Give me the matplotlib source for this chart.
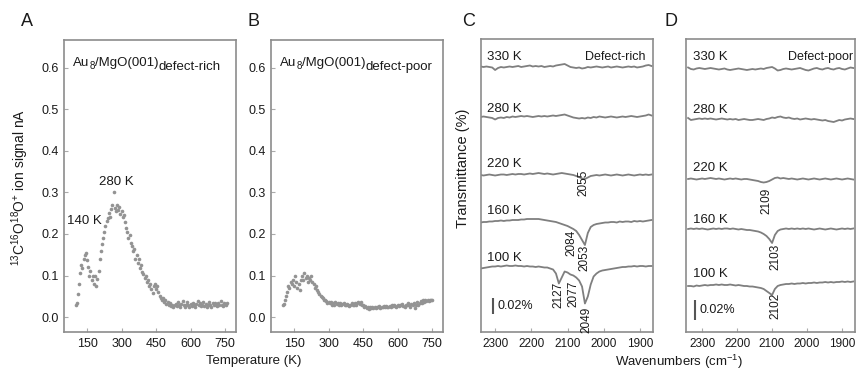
import matplotlib
matplotlib.use("Agg")
import matplotlib.pyplot as plt
import numpy as np

plt.rcParams['font.family'] = ['Liberation Sans', 'DejaVu Sans']
plt.rcParams['mathtext.fontset'] = 'custom'
plt.rcParams['mathtext.rm'] = 'Liberation Sans'
plt.rcParams['mathtext.it'] = 'Liberation Sans:italic'
plt.rcParams['mathtext.bf'] = 'Liberation Sans:bold'

# ---------------- TPD data (panels A, B) ----------------
temp_a = list(range(100, 761, 5))
signal_a = [0.030, 0.035, 0.055, 0.080, 0.105, 0.125, 0.118, 0.140, 0.150, 0.155,
            0.138, 0.120, 0.100, 0.112, 0.090, 0.098, 0.080, 0.100, 0.075, 0.092,
            0.110, 0.140, 0.160, 0.175, 0.190, 0.205, 0.220, 0.232, 0.238, 0.250,
            0.242, 0.260, 0.270, 0.300, 0.262, 0.255, 0.270, 0.258, 0.265, 0.248,
            0.255, 0.240, 0.245, 0.228, 0.215, 0.205, 0.190, 0.198, 0.178, 0.172,
            0.160, 0.165, 0.140, 0.150, 0.130, 0.140, 0.118, 0.125, 0.108, 0.104,
            0.095, 0.100, 0.085, 0.090, 0.075, 0.080, 0.068, 0.058, 0.075, 0.080,
            0.068, 0.075, 0.060, 0.050, 0.045, 0.040, 0.045, 0.036, 0.040, 0.032,
            0.036, 0.030, 0.033, 0.027, 0.030, 0.024, 0.028, 0.032, 0.026, 0.036,
            0.030, 0.025, 0.032, 0.038, 0.028, 0.024, 0.030, 0.036, 0.029, 0.025,
            0.032, 0.027, 0.035, 0.030, 0.025, 0.031, 0.038, 0.028, 0.033, 0.026,
            0.030, 0.036, 0.027, 0.032, 0.025, 0.030, 0.037, 0.029, 0.025, 0.033,
            0.028, 0.034, 0.030, 0.026, 0.035, 0.029, 0.038, 0.030, 0.027, 0.035,
            0.031, 0.029, 0.033]

temp_b = list(range(100, 751, 5))
signal_b = [0.030, 0.032, 0.040, 0.050, 0.060, 0.075, 0.070, 0.085, 0.080, 0.090,
            0.075, 0.100, 0.085, 0.070, 0.080, 0.065, 0.090, 0.100, 0.090, 0.105,
            0.095, 0.100, 0.085, 0.095, 0.090, 0.100, 0.085, 0.080, 0.070, 0.075,
            0.065, 0.060, 0.055, 0.050, 0.048, 0.045, 0.040, 0.042, 0.038, 0.035,
            0.037, 0.033, 0.036, 0.030, 0.034, 0.030, 0.036, 0.032, 0.035, 0.030,
            0.034, 0.028, 0.032, 0.035, 0.030, 0.028, 0.032, 0.030, 0.027, 0.030,
            0.034, 0.030, 0.028, 0.033, 0.030, 0.035, 0.037, 0.032, 0.036, 0.030,
            0.028, 0.025, 0.027, 0.022, 0.025, 0.020, 0.024, 0.022, 0.025, 0.021,
            0.024, 0.022, 0.025, 0.023, 0.026, 0.022, 0.025, 0.024, 0.027, 0.023,
            0.026, 0.025, 0.024, 0.027, 0.025, 0.028, 0.026, 0.030, 0.027, 0.025,
            0.029, 0.026, 0.030, 0.028, 0.032, 0.027, 0.025, 0.030, 0.028, 0.033,
            0.030, 0.025, 0.031, 0.028, 0.034, 0.022, 0.030, 0.036, 0.030, 0.035,
            0.038, 0.033, 0.040, 0.036, 0.040, 0.038, 0.041, 0.039, 0.042, 0.040,
            0.041]

tpd_ticks = [150, 300, 450, 600, 750]
tpd_yticks = [0.0, 0.1, 0.2, 0.3, 0.4, 0.5, 0.6]

# ---------------- IR data (panels C, D) ----------------
wavenumbers = [2340, 2332, 2324, 2316, 2308, 2300, 2292, 2284, 2276, 2268,
               2260, 2252, 2244, 2236, 2228, 2220, 2212, 2204, 2196, 2188,
               2180, 2172, 2164, 2156, 2148, 2140, 2132, 2124, 2116, 2108,
               2100, 2092, 2084, 2076, 2068, 2060, 2052, 2044, 2036, 2028,
               2020, 2012, 2004, 1996, 1988, 1980, 1972, 1964, 1956, 1948,
               1940, 1932, 1924, 1916, 1908, 1900, 1892, 1884, 1876, 1868]
ir_ticks = [2300, 2200, 2100, 2000, 1900]
temps_ir = ['330 K', '280 K', '220 K', '160 K', '100 K']

# Defect-rich spectra (relative transmittance, a.u.; scale bar 0.02% = 16 a.u.)
rich_330 = [0.5, 0, 0.5, 0, -0.5, -3, -1, 0, -0.5, 0, 0.5, 0, 0.5, 1, 0, 0.5, 1, 1.5, 0.5, 1,
            0.5, 1, 0, 0.5, 1, 0.5, 1.5, 2, 2.5, 3, 1.5, 0, -0.5, -1, -0.5, -1.5, -1, 0, -0.5, 0,
            0.5, 0, -0.5, 0, 0.5, -0.5, 0, 0.5, 0, -0.5, 0, 0.5, 0, 0.5, -0.5, 0, 0.5, 1.5, 2, 1]
rich_280 = [0, 0.5, 0, -0.5, -1, -2.5, -1, -0.5, -1, 0, -0.5, 0.5, 0, 0.5, 1, 0.5, 1, 0.5, 0, 0.5,
            1, 0.5, 1, 0.5, 1, 1.5, 1, 1.5, 2, 2.5, 1.5, 0.5, -0.5, -1, -1.5, -1, -1.5, -0.5, -1, 0,
            -0.5, 0.5, 0, -0.5, 0, 0.5, 0, -0.5, 0, 0.5, 0, 0.5, 1, 0.5, 0, 0.5, 1, 1.5, 2.5, 1.5]
rich_220 = [0, -0.5, 0, 0.5, 0, -0.5, 0, 0.5, 0.5, 0, 0.5, 1, 0.5, 1, 1, 0.5, 1, 1.5, 1, 1.5,
            2, 1.5, 1, 1.5, 1, 0.5, 1, 1.5, 2, 1.5, 1, 0.5, 0, -1, -2, -3.5, -4, -2.5, -1, -0.5,
            0, -0.5, 0, 0.5, 0, -0.5, 0, 0.5, 0, -0.5, 0, 0.5, 0, -0.5, 0, 0.5, 0, 0.5, 0, 0.5]
rich_160 = [-1.5, -1, -1, -0.5, -0.5, 0, 0, 0.5, 0, 0.5, 0.5, 1, 1, 1, 1.5, 1.5, 2, 2, 2, 2,
            2, 1.5, 1, 0.5, 0, -0.5, -1, -2, -3, -4, -5, -6.5, -8, -10, -14, -19, -24, -12, -6, -4,
            -3, -2.5, -2, -1.5, -1.5, -1, -1, -1.5, -0.5, -1, -0.5, -0.5, -1, 0, -0.5, 0, -0.5, 0, 0.5, 1]
rich_100 = [-2, -1.5, -1, -0.5, 0, 0, 0.5, 0, 0.5, 1, 0.5, 0.5, 1, 0.5, 0.5, 0, 0.5, 0, 0, -0.5,
            0, -0.5, -1, -1, -2, -3, -7, -17, -11, -5, -6, -8, -9, -11, -14, -20, -37, -30, -18, -10,
            -7, -5, -4, -3.5, -3, -2.5, -2, -1.5, -1, -0.5, -0.5, 0, 0, 0.5, 0, 0.5, 0.5, 0, 0.5, 0.5]

# Defect-poor spectra (relative transmittance, a.u.; scale bar 0.02% = 20 a.u.)
poor_330 = [1.5, 0, -0.5, 0.5, 1, 0.5, 0, 0.5, 1, 0.5, 0, -0.5, 0, 0.5, -0.5, -1, -0.5, 0, 0.5, 0,
            -0.5, -1, -0.5, 0, -0.5, 0, 0.5, 0, 1, 1.5, 2, 0.5, -1.5, -1, 0, 0.5, 0, -0.5, 0, 0.5,
            1, 0, -1, -1.5, -0.5, 0.5, 1, 0, -0.5, 0.5, 1, 0, -0.5, 0.5, 1, 0, -0.5, 0.5, 1.5, 1]
poor_280 = [1, -1, -0.5, 0, 0.5, 0, 0.5, 0, 0.5, 0, -0.5, 0, 0.5, 0, -0.5, 0, -0.5, 0, -1, -0.5,
            0, -0.5, -1, -1, -0.5, 0, -0.5, -1, 0, 0.5, 1.5, 1, 2, 2.5, 1.5, 1, 1.5, 0.5, 0, 0.5,
            -0.5, 0, 0.5, 0, -0.5, 0, -0.5, -1, -1.5, -1, -2, -2.5, -3, -2, -1, -1.5, -0.5, 0, 0.5, 0]
poor_220 = [0, 0.5, 0, -0.5, 0, 0.5, 0, 0.5, 1, 0.5, 0, 0.5, 0, -0.5, 0, 0.5, 0, 0.5, 0, -0.5,
            0, 0, -0.5, -1, -1.5, -2, -3, -3.5, -3, -2, -0.5, 1, 1.5, 0.5, 1, 0.5, 0, 0.5, 0, -0.5,
            0, 0.5, 0, -0.5, 0, 0.5, 0, -0.5, 0, 0.5, 0, -0.5, 0, 0.5, 0, -0.5, 0, 0.5, 0, -0.5]
poor_160 = [0, 0.5, 0, 0.5, 0, 0.5, 0, -0.5, 0, 0.5, 0, 0.5, 0, 0.5, 0.5, 0, 0.5, 0, -0.5, 0,
            -0.5, -1, -1, -1.5, -2, -2.5, -3.5, -5, -7, -10, -14, -6, -2, -0.5, 0, 0.5, 0, 0.5, 0, 0.5,
            0, 0.5, 0, 0.5, 0, -0.5, 0, 0.5, 0, -0.5, 0, 0.5, 0, -0.5, 0, 0.5, 0, 0.5, 0, 0.5]
poor_100 = [-1, -1, -1.5, -0.5, -1, -0.5, 0, -0.5, 0, 0, 0.5, 0, 0.5, 0, 0, 0.5, 0, -0.5, 0, -0.5,
            -1, -1, -1.5, -1.5, -2, -2.5, -3, -4, -6, -8, -10, -4, -1, 0, 0.5, 1, 1, 1.5, 1, 1.5,
            1.5, 2, 1.5, 2, 2, 2.5, 2, 2.5, 2.5, 3, 2.5, 3, 2.5, 3, 3, 3.5, 3, 3.5, 3, 3.5]

rich_spectra = [rich_330, rich_280, rich_220, rich_160, rich_100]
poor_spectra = [poor_330, poor_280, poor_220, poor_160, poor_100]
rich_peaks = [('2055', 2057, 183), ('2084', 2088, 243), ('2053', 2053, 258),
              ('2127', 2125, 295), ('2077', 2083, 294), ('2049', 2048, 320)]
poor_peaks = [('2109', 2117, 201), ('2103', 2091, 257), ('2102', 2091, 306)]

# ---------------- layout ----------------
W, H = 856, 377
fig = plt.figure(figsize=(W / 100, H / 100), dpi=100)
renderer = fig.canvas.get_renderer()


def rect(l, r, t, b):
    return [l / W, 1 - b / H, (r - l) / W, (b - t) / H]


def fx(x):
    return x / W


def fy(y):
    return 1 - y / H


GREY = '#7f7f7f'
SPINE = '#8c8c8c'
TXT = '#1a1a1a'


def chain_text(x, y, parts):
    """parts: list of (string, fontsize, baseline_shift_px)"""
    cur = x
    for s, fs, dy in parts:
        t = fig.text(fx(cur), fy(y + dy), s, ha='left', va='baseline', fontsize=fs, color=TXT)
        bb = t.get_window_extent(renderer=renderer)
        cur = bb.x1


axA = fig.add_axes(rect(64, 236, 40, 332))
axB = fig.add_axes(rect(271, 443, 40, 332))
axC = fig.add_axes(rect(481, 653, 39, 332))
axD = fig.add_axes(rect(686, 855, 39, 332))

for ax in (axA, axB, axC, axD):
    for s in ax.spines.values():
        s.set_color(SPINE)
        s.set_linewidth(1.2)

for ax, T, S, lab, x0 in ((axA, temp_a, signal_a, 'defect-rich', 73),
                          (axB, temp_b, signal_b, 'defect-poor', 280)):
    ax.plot(T, S, 'o', ms=2.6, mew=0, color='#939393')
    ax.set_xlim(50, 797)
    ax.set_ylim(-0.036, 0.667)
    ax.set_xticks(tpd_ticks)
    ax.set_yticks(tpd_yticks)
    ax.set_yticklabels(['%.1f' % v for v in tpd_yticks])
    ax.tick_params(direction='in', length=3, width=0.8, color='#aaaaaa',
                   labelsize=9, labelcolor=TXT, pad=4)
    chain_text(x0, 66, [('Au', 9.5, 0), ('8', 7, 3), ('/MgO(001)', 9.5, 0), (lab, 9.5, 4)])

axA.text(138, 0.231, '140 K', ha='center', va='center', fontsize=9.5, color=TXT)
axA.text(278, 0.325, '280 K', ha='center', va='center', fontsize=9.5, color=TXT)

fig.text(fx(20), fy(187), r'$^{13}$C$^{16}$O$^{18}$O$^{+}$ ion signal nA', rotation=90,
         ha='center', va='center', fontsize=10, color=TXT)
fig.text(fx(254), fy(361), 'Temperature (K)', ha='center', va='center', fontsize=9.5, color=TXT)

# IR panels
ir_cfg = [
    (axC, rich_spectra, [265, 215, 157, 111, 65.5], (2339, 1864), 16, 'Defect-rich', rich_peaks,
     [57, 109, 164, 211, 258], 487, 645, 2306, 298, 497),
    (axD, poor_spectra, [263, 213, 153, 103, 47], (2346, 1863), 20, 'Defect-poor', poor_peaks,
     [57, 110, 168, 220, 274], 693, 853, 2320, 300, 700),
]
for ax, spectra, offs, xl, bar, title, peaks, lab_y, lab_x, title_x, bar_w, bar_top, bar_tx in ir_cfg:
    for spec, off in zip(spectra, offs):
        ax.plot(wavenumbers, np.array(spec) + off, color=GREY, lw=1.3)
    ax.set_xlim(*xl)
    ax.set_ylim(0, 293)
    ax.set_yticks([])
    ax.set_xticks(ir_ticks)
    ax.tick_params(axis='x', direction='in', length=3, width=0.8, color='#aaaaaa',
                   labelsize=8.5, labelcolor=TXT, pad=4)
    for t, y in zip(temps_ir, lab_y):
        fig.text(fx(lab_x), fy(y), t, ha='left', va='center', fontsize=9.5, color=TXT)
    fig.text(fx(title_x), fy(lab_y[0]), title, ha='right', va='center', fontsize=9, color=TXT)
    for txt, w, y in peaks:
        ax.text(w, 332 - y, txt, rotation=90, ha='center', va='center', fontsize=8.5, color=TXT)
    ax.plot([bar_w, bar_w], [332 - bar_top - bar, 332 - bar_top], color='#555555', lw=1.5,
            solid_capstyle='butt')
    fig.text(fx(bar_tx), fy(bar_top + bar / 2), '0.02%', ha='left', va='center', fontsize=9, color=TXT)

fig.text(fx(463), fy(168), 'Transmittance (%)', rotation=90, ha='center', va='center',
         fontsize=10.5, color=TXT)
fig.text(fx(679), fy(362), r'Wavenumbers (cm$^{-1}$)', ha='center', va='center', fontsize=9.5, color=TXT)

for letter, x in (('A', 21), ('B', 248), ('C', 462), ('D', 665)):
    fig.text(fx(x), fy(22), letter, ha='left', va='center', fontsize=13, color=TXT)

fig.savefig('out.png', dpi=100)
